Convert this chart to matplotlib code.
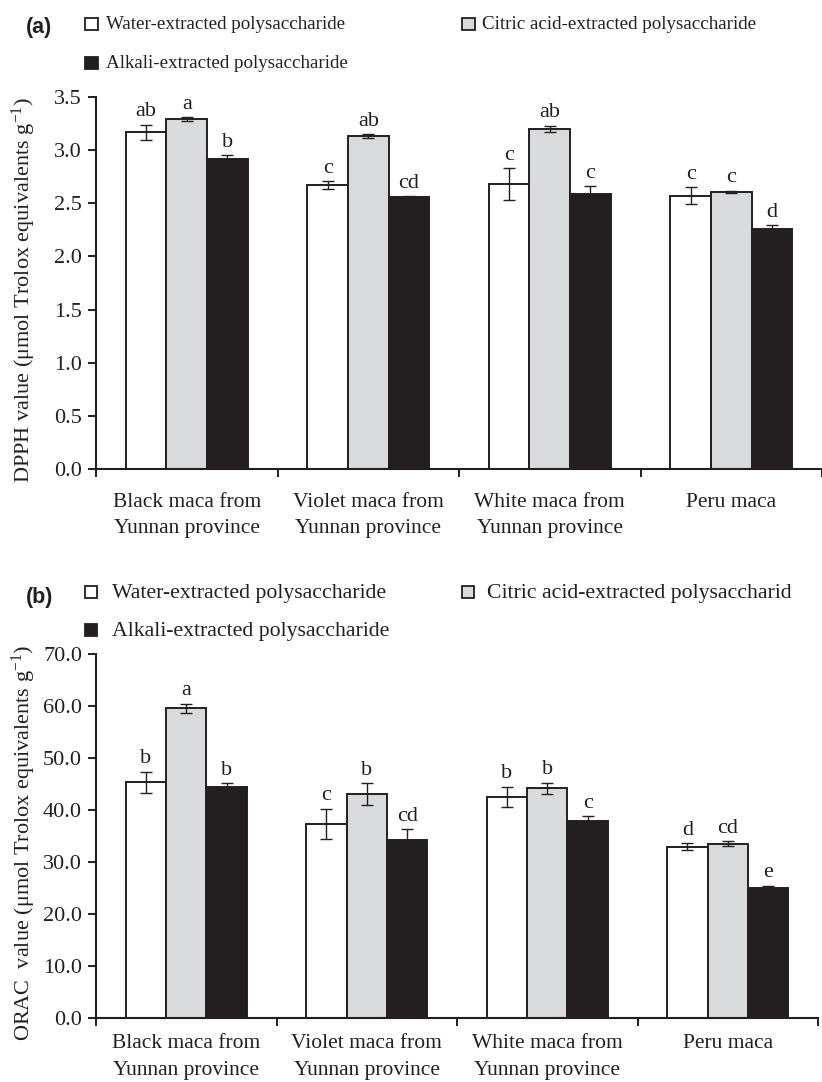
import numpy as np
import matplotlib
matplotlib.use("Agg")
import matplotlib.pyplot as plt
from matplotlib.patches import Rectangle

plt.rcParams["font.family"] = ["Liberation Serif", "DejaVu Serif"]
plt.rcParams["mathtext.fontset"] = "custom"
plt.rcParams["mathtext.rm"] = "Liberation Serif"
plt.rcParams["mathtext.it"] = "Liberation Serif:italic"

INK = "#231f20"
GREY = "#d9dadb"

# ---- data ----
categories = ["Black maca from\nYunnan province", "Violet maca from\nYunnan province",
              "White maca from\nYunnan province", "Peru maca"]
series = ["Water-extracted polysaccharide", "Citric acid-extracted polysaccharide",
          "Alkali-extracted polysaccharide"]

dpph_water = [3.17, 2.67, 2.68, 2.57]
dpph_citric = [3.29, 3.13, 3.20, 2.61]
dpph_alkali = [2.92, 2.56, 2.59, 2.26]
dpph_water_err = [0.07, 0.04, 0.15, 0.08]
dpph_citric_err = [0.02, 0.02, 0.03, 0.01]
dpph_alkali_err = [0.03, 0.01, 0.07, 0.035]
dpph_water_sig = ["ab", "c", "c", "c"]
dpph_citric_sig = ["a", "ab", "ab", "c"]
dpph_alkali_sig = ["b", "cd", "c", "d"]

orac_water = [45.3, 37.3, 42.5, 32.9]
orac_citric = [59.5, 43.0, 44.1, 33.5]
orac_alkali = [44.3, 34.2, 37.9, 24.9]
orac_water_err = [2.0, 2.9, 1.9, 0.7]
orac_citric_err = [0.9, 2.1, 1.1, 0.5]
orac_alkali_err = [0.8, 2.0, 0.9, 0.5]
orac_water_sig = ["b", "c", "b", "d"]
orac_citric_sig = ["a", "b", "b", "cd"]
orac_alkali_sig = ["b", "cd", "c", "e"]

W, H = 822, 1082
fig = plt.figure(figsize=(W / 100, H / 100), dpi=100)


def fx(px):
    return px / W


def fy(py):
    return 1 - py / H


def axes_px(left, top, right, bottom):
    return fig.add_axes([fx(left), fy(bottom), (right - left) / W, (bottom - top) / H])


def draw_panel(ax, values, errors, sigs, ymax, ystep, fmt, ylabel, label_pad):
    x = np.arange(len(categories)) + 0.5
    width = 0.2235
    fills = ["white", GREY, INK]
    for i, (vals, errs, sg, fc) in enumerate(zip(values, errors, sigs, fills)):
        xi = x + (i - 1) * width
        ax.bar(xi, vals, width=width, color=fc, edgecolor=INK, linewidth=1.4, zorder=2)
        ax.errorbar(xi, vals, yerr=errs, fmt="none", ecolor=INK, elinewidth=1.0,
                    capsize=4, capthick=1.0, zorder=3)
        for xx, v, e, s in zip(xi, vals, errs, sg):
            ax.annotate(s, (xx, v + e), xytext=(0, 6), textcoords="offset points",
                        ha="center", va="baseline", fontsize=16, color=INK)
    ax.set_xlim(0, len(categories))
    ax.set_ylim(0, ymax)
    ticks = np.arange(0, ymax + ystep / 2, ystep)
    ax.set_yticks(ticks)
    ax.set_yticklabels([fmt % t for t in ticks])
    ax.set_xticks(np.arange(len(categories) + 1))
    ax.set_xticklabels([])
    ax.set_xticks(x, minor=True)
    ax.set_xticklabels(categories, minor=True, fontsize=15.5, linespacing=1.55)
    ax.tick_params(axis="x", which="minor", length=0, pad=label_pad, colors=INK)
    ax.tick_params(axis="both", which="major", length=6, width=1.4, colors=INK,
                   labelsize=16, direction="out")
    ax.tick_params(axis="y", pad=4)
    for side in ("top", "right"):
        ax.spines[side].set_visible(False)
    for side in ("left", "bottom"):
        ax.spines[side].set_linewidth(1.5)
        ax.spines[side].set_color(INK)
    ax.set_ylabel(ylabel, fontsize=16, color=INK)


def legend_block(tag, tag_y, rows, size, fs):
    fig.text(fx(26), fy(tag_y), tag, fontsize=15.5, fontweight="bold",
             family="Liberation Sans", color=INK, va="center", ha="left")
    for (mx, my, tx, base, label, fc) in rows:
        fig.patches.append(Rectangle((fx(mx - size / 2), fy(my + size / 2)), size / W, size / H,
                                     transform=fig.transFigure, facecolor=fc,
                                     edgecolor=INK, linewidth=1.3))
        fig.text(fx(tx), fy(base), label, fontsize=fs, color=INK, va="baseline", ha="left")


# panel (a): DPPH
ax1 = axes_px(96, 97, 822, 469)
draw_panel(ax1, [dpph_water, dpph_citric, dpph_alkali],
           [dpph_water_err, dpph_citric_err, dpph_alkali_err],
           [dpph_water_sig, dpph_citric_sig, dpph_alkali_sig],
           3.5, 0.5, "%.1f", r"DPPH value (μmol Trolox equivalents g$^{-1}$)", 17)
ax1.yaxis.set_label_coords(-(96 - 38) / 726, 0.48)
legend_block("(a)", 27,
             [(91.5, 24, 106, 29, series[0], "white"),
              (468.5, 24, 482, 29, series[1], GREY),
              (91.5, 63, 106, 68, series[2], INK)], 12.5, 13.7)

# panel (b): ORAC
ax2 = axes_px(96, 653.7, 818, 1017.7)
draw_panel(ax2, [orac_water, orac_citric, orac_alkali],
           [orac_water_err, orac_citric_err, orac_alkali_err],
           [orac_water_sig, orac_citric_sig, orac_alkali_sig],
           70, 10, "%.1f", r"ORAC  value (μmol Trolox equivalents g$^{-1}$)", 12)
ax2.yaxis.set_label_coords(-(96 - 38) / 722, 0.48)
legend_block("(b)", 598,
             [(91, 592, 112, 598, series[0], "white"),
              (467.5, 592, 487, 598, "Citric acid-extracted polysaccharid", GREY),
              (91, 630, 112, 636, series[2], INK)], 12, 15.7)

fig.savefig("out.png", dpi=100)
